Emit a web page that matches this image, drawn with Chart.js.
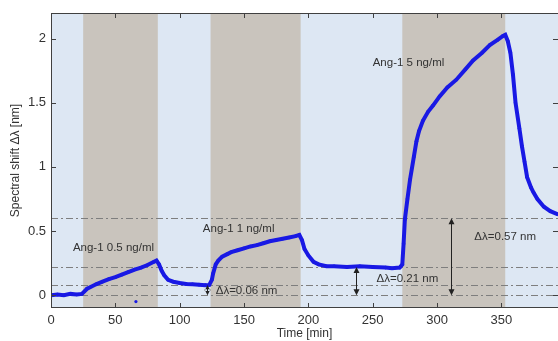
<!DOCTYPE html>
<html>
<head>
<meta charset="utf-8">
<script src="https://cdn.jsdelivr.net/npm/chart.js@4/dist/chart.umd.min.js"></script>
<style>
  html, body { margin: 0; padding: 0; background: #fff; }
  #wrap { width: 558px; height: 341px; }
</style>
</head>
<body>
<div id="wrap"><canvas id="chart" width="558" height="341"></canvas></div>
<script>
// time [min] and spectral shift [nm]
var times = [0, 5, 10, 15, 20, 24, 26, 28, 30, 35, 40, 45, 50, 55, 60, 65, 70, 75, 80, 82,
    84, 86, 88, 91, 95, 100, 105, 110, 115, 120, 123, 125, 126, 128, 130, 133, 137, 140, 145, 150,
    155, 160, 165, 170, 175, 180, 185, 190, 193, 195, 197, 200, 204, 208, 214, 220, 230, 240, 250, 260,
    265, 271, 273, 274, 275, 277, 279, 282, 284, 286, 289, 293, 297, 302, 308, 315, 322, 328, 335, 341,
    347, 351, 353, 355, 357, 359, 361, 364, 366, 368, 370, 373, 375, 378, 383, 388, 394];
var shift = [0.0, 0.005, 0.0, 0.01, 0.005, 0.01, 0.03, 0.05, 0.06, 0.085, 0.105, 0.125, 0.14, 0.16, 0.18, 0.2, 0.215, 0.235, 0.26, 0.27,
    0.24, 0.19, 0.155, 0.12, 0.105, 0.095, 0.088, 0.085, 0.082, 0.078, 0.08, 0.12, 0.17, 0.24, 0.27, 0.3, 0.32, 0.335, 0.35, 0.365,
    0.38, 0.39, 0.405, 0.42, 0.43, 0.44, 0.45, 0.46, 0.47, 0.43, 0.36, 0.31, 0.26, 0.24, 0.225, 0.225, 0.22, 0.225, 0.22, 0.215,
    0.21, 0.215, 0.24, 0.4, 0.59, 0.75, 0.9, 1.08, 1.2, 1.28, 1.36, 1.43, 1.48, 1.55, 1.62, 1.68, 1.76, 1.83, 1.89, 1.95,
    1.99, 2.02, 2.03, 1.98, 1.89, 1.72, 1.5, 1.3, 1.16, 1.04, 0.92, 0.84, 0.8, 0.75, 0.69, 0.655, 0.63];

// one stray point below the baseline
var strayTime = [66];
var strayShift = [-0.05];

// injection periods (grey bands)
var bandStart = [25, 124, 273];
var bandEnd = [83, 194, 353];

// dash-dot reference levels
var refLevels = [0.6, 0.22, 0.08, 0.0];

var xTicks = [0, 50, 100, 150, 200, 250, 300, 350];
var yTicks = [0, 0.5, 1, 1.5, 2];

// text labels: [text, time, shift]
var labelText = ['Ang-1 0.5 ng/ml', 'Ang-1 1 ng/ml', 'Ang-1 5 ng/ml', 'Δλ=0.06 nm', 'Δλ=0.21 nm', 'Δλ=0.57 nm'];
var labelTime = [17, 118, 250, 128, 253, 329];
var labelShift = [0.37, 0.52, 1.81, 0.03, 0.13, 0.455];

// double arrows: time, from, to
var arrowTime = [121, 237, 311];
var arrowFrom = [0, 0, 0];
var arrowTo = [0.08, 0.22, 0.6];

var BLUE = 'rgb(25,25,228)';
var AXIS = '#404040';
var TEXT = '#333333';
var FONT = '"Liberation Sans", Arial, sans-serif';

function pts(xs, ys) {
    var out = [];
    for (var i = 0; i < xs.length; i++) out.push({ x: xs[i], y: ys[i] });
    return out;
}

var decor = {
    id: 'decor',
    beforeDatasetsDraw: function (chart) {
        var ctx = chart.ctx, a = chart.chartArea;
        var x = chart.scales.x, y = chart.scales.y;
        ctx.save();
        ctx.fillStyle = '#dde7f3';
        ctx.fillRect(a.left, a.top, a.right - a.left, a.bottom - a.top);
        ctx.fillStyle = '#c9c4bd';
        for (var i = 0; i < bandStart.length; i++) {
            var x0 = x.getPixelForValue(bandStart[i]);
            var x1 = x.getPixelForValue(bandEnd[i]);
            ctx.fillRect(x0, a.top, x1 - x0, a.bottom - a.top);
        }
        ctx.strokeStyle = '#7e7e7e';
        ctx.lineWidth = 1;
        ctx.setLineDash([7, 3, 2, 3]);
        refLevels.forEach(function (v) {
            var py = Math.round(y.getPixelForValue(v)) + 0.5;
            ctx.beginPath();
            ctx.moveTo(a.left, py);
            ctx.lineTo(a.right, py);
            ctx.stroke();
        });
        ctx.restore();
    },
    afterDatasetsDraw: function (chart) {
        var ctx = chart.ctx, a = chart.chartArea;
        var x = chart.scales.x, y = chart.scales.y;
        ctx.save();
        // frame and inner ticks
        ctx.strokeStyle = AXIS;
        ctx.lineWidth = 1;
        ctx.beginPath();
        ctx.moveTo(a.left + 0.5, a.bottom);
        ctx.lineTo(a.left + 0.5, a.top + 0.5);
        ctx.lineTo(a.right, a.top + 0.5);
        ctx.moveTo(a.left, a.bottom - 0.5);
        ctx.lineTo(a.right, a.bottom - 0.5);
        xTicks.forEach(function (t) {
            var px = Math.round(x.getPixelForValue(t)) + 0.5;
            ctx.moveTo(px, a.bottom);
            ctx.lineTo(px, a.bottom - 5);
            ctx.moveTo(px, a.top);
            ctx.lineTo(px, a.top + 5);
        });
        yTicks.forEach(function (t) {
            var py = Math.round(y.getPixelForValue(t)) + 0.5;
            ctx.moveTo(a.left, py);
            ctx.lineTo(a.left + 5, py);
            ctx.moveTo(a.right, py);
            ctx.lineTo(a.right - 5, py);
        });
        ctx.stroke();

        // arrows
        ctx.strokeStyle = '#222';
        ctx.fillStyle = '#222';
        for (var i = 0; i < arrowTime.length; i++) {
            var ax = Math.round(x.getPixelForValue(arrowTime[i])) + 0.5;
            var yb = y.getPixelForValue(arrowFrom[i]);
            var yt = y.getPixelForValue(arrowTo[i]);
            ctx.beginPath();
            ctx.moveTo(ax, yb - 2);
            ctx.lineTo(ax, yt + 2);
            ctx.stroke();
            ctx.beginPath();
            ctx.moveTo(ax, yt);
            ctx.lineTo(ax - 3, yt + 6);
            ctx.lineTo(ax + 3, yt + 6);
            ctx.closePath();
            ctx.moveTo(ax, yb);
            ctx.lineTo(ax - 3, yb - 6);
            ctx.lineTo(ax + 3, yb - 6);
            ctx.closePath();
            ctx.fill();
        }

        // labels
        ctx.fillStyle = TEXT;
        ctx.font = '11.5px ' + FONT;
        ctx.textAlign = 'left';
        ctx.textBaseline = 'middle';
        for (var j = 0; j < labelText.length; j++) {
            ctx.fillText(labelText[j], x.getPixelForValue(labelTime[j]), y.getPixelForValue(labelShift[j]));
        }
        ctx.restore();
    }
};

new Chart(document.getElementById('chart'), {
    type: 'scatter',
    data: {
        datasets: [{
            data: pts(times, shift),
            showLine: true,
            borderColor: BLUE,
            backgroundColor: BLUE,
            borderWidth: 4,
            pointRadius: 1.8,
            pointBorderWidth: 0,
            tension: 0
        }, {
            data: pts(strayTime, strayShift),
            backgroundColor: BLUE,
            pointRadius: 1.6,
            pointBorderWidth: 0
        }]
    },
    options: {
        responsive: false,
        animation: false,
        events: [],
        layout: { autoPadding: false, padding: { top: 13, right: 0, left: 0, bottom: 0 } },
        plugins: { legend: { display: false }, tooltip: { enabled: false } },
        scales: {
            x: {
                type: 'linear',
                min: 0,
                max: 394,
                afterBuildTicks: function (s) { s.ticks = xTicks.map(function (v) { return { value: v }; }); },
                afterFit: function (s) { s.height = 33; s.paddingLeft = 0; s.paddingRight = 0; },
                grid: { display: false, drawTicks: false },
                border: { display: false },
                ticks: { color: TEXT, padding: 5, maxRotation: 0, font: { family: FONT, size: 13 } },
                title: { display: true, text: 'Time [min]', color: TEXT, padding: 0, font: { family: FONT, size: 12 } }
            },
            y: {
                type: 'linear',
                min: -0.1,
                max: 2.2,
                afterBuildTicks: function (s) { s.ticks = yTicks.map(function (v) { return { value: v }; }); },
                afterFit: function (s) { s.width = 51; s.paddingTop = 0; s.paddingBottom = 0; },
                grid: { display: false, drawTicks: false },
                border: { display: false },
                ticks: { color: TEXT, padding: 5, font: { family: FONT, size: 13 }, callback: function (v) { return String(v); } },
                title: { display: true, text: 'Spectral shift Δλ [nm]', color: TEXT, padding: { top: 8, bottom: 0 }, font: { family: FONT, size: 12 } }
            }
        }
    },
    plugins: [decor]
});
</script>
</body>
</html>
